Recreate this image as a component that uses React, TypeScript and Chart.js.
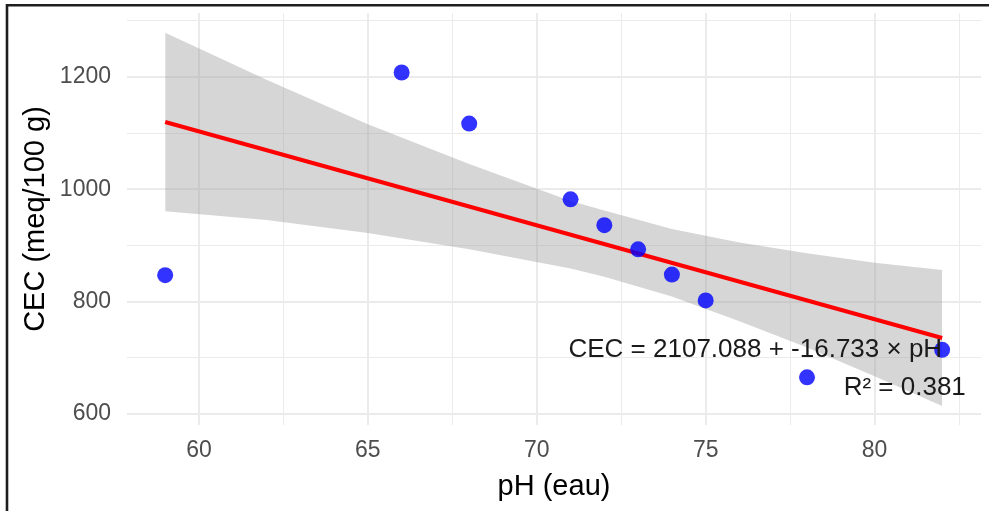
import React, { useEffect, useRef } from 'react';
import { Chart, registerables } from 'chart.js';

Chart.register(...registerables);

// Observations
const phValues = [59, 66, 68, 71, 72, 73, 74, 75, 78, 82];
const cecValues = [847, 1208, 1117, 982, 936, 893, 848, 802, 665, 714];

// Fitted regression line (end points)
const fitPh = [59, 82];
const fitCec = [1119.8, 735.0];

// Confidence band
const bandPh = [59, 62, 65, 68, 71, 72, 74, 76, 78, 80, 82];
const bandUpper = [1279, 1195, 1116, 1045, 979, 962, 929, 905, 886, 869, 856];
const bandLower = [961, 945, 922, 893, 859, 844, 809, 765, 718, 667, 614];

// Axes
const xTicks = [60, 62.5, 65, 67.5, 70, 72.5, 75, 77.5, 80, 82.5];
const xMajor = [60, 65, 70, 75, 80];
const yTicks = [600, 700, 800, 900, 1000, 1100, 1200, 1300];
const yMajor = [600, 800, 1000, 1200];
const xLimits = [57.87, 83.15];
const yLimits = [580, 1314];

const xTitle = 'pH (eau)';
const yTitle = 'CEC (meq/100 g)';
const equationText = 'CEC = 2107.088 + -16.733 × pH';
const r2Text = 'R² = 0.381';
const equationAt = [82, 714];
const r2At = [82.7, 647];

const FAMILY = '"Liberation Sans", Arial, Helvetica, sans-serif';

export default function App() {
  const ref = useRef<HTMLCanvasElement | null>(null);

  useEffect(() => {
    const canvas = ref.current;
    if (!canvas) return;

    const annotate = {
      id: 'annotate',
      beforeDraw(chart: any) {
        const { ctx } = chart;
        ctx.save();
        ctx.fillStyle = '#ffffff';
        ctx.fillRect(0, 0, chart.width, chart.height);
        ctx.restore();
      },
      afterDatasetsDraw(chart: any) {
        const { ctx, scales } = chart;
        const x = scales.x;
        const y = scales.y;
        ctx.save();
        ctx.font = `26px ${FAMILY}`;
        ctx.fillStyle = '#1a1a1a';
        ctx.textAlign = 'right';
        ctx.textBaseline = 'middle';
        ctx.fillText(equationText, x.getPixelForValue(equationAt[0]), y.getPixelForValue(equationAt[1]));
        ctx.fillText(r2Text, x.getPixelForValue(r2At[0]), y.getPixelForValue(r2At[1]));
        ctx.restore();
      },
      afterDraw(chart: any) {
        const { ctx } = chart;
        ctx.save();
        ctx.strokeStyle = '#1e1e1e';
        ctx.lineWidth = 2.6;
        ctx.beginPath();
        ctx.moveTo(7, chart.height + 2);
        ctx.lineTo(7, 5.3);
        ctx.lineTo(chart.width + 2, 5.3);
        ctx.stroke();
        ctx.restore();
      },
    };

    const chart = new Chart(canvas, {
      type: 'scatter',
      data: {
        datasets: [
          {
            label: 'obs',
            data: phValues.map((v, i) => ({ x: v, y: cecValues[i] })),
            backgroundColor: 'rgba(0,0,255,0.8)',
            borderWidth: 0,
            pointRadius: 8,
            pointHoverRadius: 8,
            order: 1,
          },
          {
            label: 'fit',
            data: fitPh.map((v, i) => ({ x: v, y: fitCec[i] })),
            showLine: true,
            borderColor: '#ff0000',
            borderWidth: 4,
            pointRadius: 0,
            fill: false,
            order: 2,
          },
          {
            label: 'upper',
            data: bandPh.map((v, i) => ({ x: v, y: bandUpper[i] })),
            showLine: true,
            borderWidth: 0,
            borderColor: 'rgba(0,0,0,0)',
            backgroundColor: 'rgba(153,153,153,0.4)',
            pointRadius: 0,
            fill: '+1',
            order: 3,
          },
          {
            label: 'lower',
            data: bandPh.map((v, i) => ({ x: v, y: bandLower[i] })),
            showLine: true,
            borderWidth: 0,
            borderColor: 'rgba(0,0,0,0)',
            pointRadius: 0,
            fill: false,
            order: 4,
          },
        ],
      },
      options: {
        animation: false,
        responsive: false,
        maintainAspectRatio: false,
        events: [],
        layout: { padding: { top: 13, right: 6, left: 0, bottom: 0 } },
        plugins: {
          legend: { display: false },
          tooltip: { enabled: false },
        },
        scales: {
          x: {
            type: 'linear',
            min: xLimits[0],
            max: xLimits[1],
            afterBuildTicks: (s: any) => {
              s.ticks = xTicks.map((v) => ({ value: v }));
            },
            afterFit: (s: any) => {
              s.height = 86;
              s.paddingLeft = 0;
              s.paddingRight = 0;
            },
            grid: {
              color: '#ebebeb',
              lineWidth: (c: any) => (c.tick && xMajor.includes(c.tick.value) ? 2 : 1),
              drawTicks: false,
            },
            border: { display: false },
            ticks: {
              autoSkip: false,
              maxRotation: 0,
              padding: 12,
              color: '#4d4d4d',
              font: { size: 23, family: FAMILY },
              callback: (v: any) => (xMajor.includes(Number(v)) ? String(v) : ''),
            },
            title: {
              display: true,
              text: xTitle,
              color: '#000000',
              font: { size: 29, family: FAMILY },
              padding: { top: 0, bottom: 7 },
            },
          },
          y: {
            type: 'linear',
            min: yLimits[0],
            max: yLimits[1],
            afterBuildTicks: (s: any) => {
              s.ticks = yTicks.map((v) => ({ value: v }));
            },
            afterFit: (s: any) => {
              s.width = 127;
              s.paddingTop = 0;
              s.paddingBottom = 0;
            },
            grid: {
              color: '#ebebeb',
              lineWidth: (c: any) => (c.tick && yMajor.includes(c.tick.value) ? 2 : 1),
              drawTicks: false,
            },
            border: { display: false },
            ticks: {
              autoSkip: false,
              padding: 16,
              color: '#4d4d4d',
              font: { size: 23, family: FAMILY },
              callback: (v: any) => (yMajor.includes(Number(v)) ? String(v) : ''),
            },
            title: {
              display: true,
              text: yTitle,
              color: '#000000',
              font: { size: 29, family: FAMILY },
              padding: { top: 19, bottom: 0 },
            },
          },
        },
      },
      plugins: [annotate],
    } as any);

    return () => chart.destroy();
  }, []);

  return (
    <div style={{ position: 'fixed', left: 0, top: 0, width: 989, height: 511, background: '#fff' }}>
      <canvas ref={ref} width={989} height={511} style={{ display: 'block', width: 989, height: 511 }} />
    </div>
  );
}
